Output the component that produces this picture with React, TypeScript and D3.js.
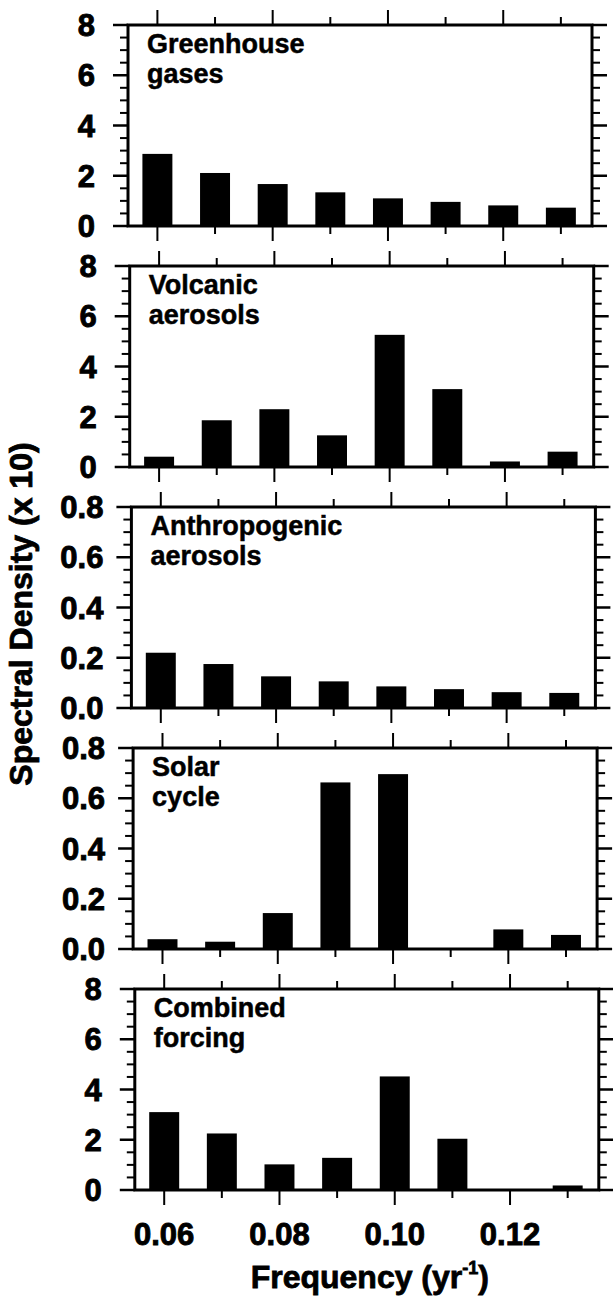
import React from "react";
import * as d3 from "d3";

// ---- Data ----
const frequencies = [0.06, 0.07, 0.08, 0.09, 0.10, 0.11, 0.12, 0.13];
const greenhouse = [2.87, 2.11, 1.67, 1.34, 1.10, 0.96, 0.82, 0.73];
const volcanic = [0.41, 1.86, 2.30, 1.26, 5.26, 3.10, 0.22, 0.61];
const anthropogenic = [0.22, 0.175, 0.126, 0.106, 0.086, 0.075, 0.063, 0.06];
const solar = [0.039, 0.029, 0.143, 0.663, 0.696, 0, 0.078, 0.056];
const combined = [3.1, 2.25, 1.02, 1.28, 4.52, 2.04, 0, 0.18];

const panelSeries = [greenhouse, volcanic, anthropogenic, solar, combined];
const panelLabels = [
  ["Greenhouse", "gases"],
  ["Volcanic", "aerosols"],
  ["Anthropogenic", "aerosols"],
  ["Solar", "cycle"],
  ["Combined", "forcing"],
];
const panelMax = [8, 8, 0.8, 0.8, 8];

const xMajorTicks = [0.06, 0.08, 0.1, 0.12];
const xMinorTicks = [0.07, 0.09, 0.11, 0.13];
const xTickLabels = ["0.06", "0.08", "0.10", "0.12"];
const xDomain = [0.0549, 0.1354];
const barWidthData = 0.0052;

const yTitle = "Spectral Density (x 10)";
const xTitle = "Frequency (yr";

// ---- Layout ----
const W = 613;
const H = 1300;
const LEFT = 128;
const PANEL_W = 464;
const TOP0 = 25;
const PANEL_H = 201;
const STEP = 241;
const SKEW = 1.7; // scan drift per panel
const FONT = "'Liberation Sans', Arial, Helvetica, sans-serif";

function Panel({ i }: { i: number }) {
  const left = LEFT + i * SKEW;
  const right = left + PANEL_W;
  const top = TOP0 + i * STEP;
  const bottom = top + PANEL_H;
  const max = panelMax[i];
  const data = panelSeries[i];

  const x = d3.scaleLinear().domain(xDomain).range([left, right]);
  const y = d3.scaleLinear().domain([0, max]).range([bottom, top]);
  const majorY = d3.range(0, max + max / 100, max / 4);
  const minorY = d3.range(0, max + max / 100, max / 16).filter((_, k) => k % 4 !== 0);
  const fmt = max >= 1 ? d3.format("d") : d3.format(".1f");
  const bw = x(xDomain[0] + barWidthData) - x(xDomain[0]);

  const MAJ = 15;
  const MIN = 8;

  return (
    <g>
      {data.map((v, k) => (
        <rect
          key={"b" + k}
          x={x(frequencies[k]) - bw / 2}
          y={y(v)}
          width={bw}
          height={Math.max(0, y(0) - y(v))}
          fill="#000"
        />
      ))}
      <rect x={left} y={top} width={PANEL_W} height={PANEL_H} fill="none" stroke="#000" strokeWidth={3} />
      {majorY.map((t, k) => (
        <g key={"my" + k}>
          <line x1={left - MAJ} x2={left} y1={y(t)} y2={y(t)} stroke="#000" strokeWidth={2.5} />
          <line x1={right} x2={right + MAJ} y1={y(t)} y2={y(t)} stroke="#000" strokeWidth={2.5} />
          <text
            x={left - (max >= 1 ? 33 : 28)}
            y={y(t)}
            dy="0.36em"
            textAnchor="end"
            fontFamily={FONT}
            fontWeight="bold"
            fontSize={31}
            stroke="#000"
            strokeWidth={0.9}
          >
            {fmt(t)}
          </text>
        </g>
      ))}
      {minorY.map((t, k) => (
        <g key={"ny" + k}>
          <line x1={left - MIN} x2={left} y1={y(t)} y2={y(t)} stroke="#000" strokeWidth={2} />
          <line x1={right} x2={right + MIN} y1={y(t)} y2={y(t)} stroke="#000" strokeWidth={2} />
        </g>
      ))}
      {xMajorTicks.map((t, k) => (
        <g key={"mx" + k}>
          <line x1={x(t)} x2={x(t)} y1={top - MAJ} y2={top} stroke="#000" strokeWidth={2} />
          <line x1={x(t)} x2={x(t)} y1={bottom} y2={bottom + MAJ} stroke="#000" strokeWidth={2} />
        </g>
      ))}
      {xMinorTicks.map((t, k) => (
        <g key={"nx" + k}>
          <line x1={x(t)} x2={x(t)} y1={top - MIN} y2={top} stroke="#000" strokeWidth={2} />
          <line x1={x(t)} x2={x(t)} y1={bottom} y2={bottom + MIN} stroke="#000" strokeWidth={2} />
        </g>
      ))}
      <text fontFamily={FONT} fontWeight="bold" fontSize={27} stroke="#000" strokeWidth={0.5}>
        <tspan x={left + 19} y={top + 28}>{panelLabels[i][0]}</tspan>
        <tspan x={left + 19} y={top + 58}>{panelLabels[i][1]}</tspan>
      </text>
      {i === panelSeries.length - 1 &&
        xMajorTicks.map((t, k) => (
          <text
            key={"xl" + k}
            x={x(t)}
            y={bottom + 55}
            textAnchor="middle"
            fontFamily={FONT}
            fontWeight="bold"
            fontSize={31}
            stroke="#000"
            strokeWidth={0.9}
          >
            {xTickLabels[k]}
          </text>
        ))}
      {i === panelSeries.length - 1 && (
        <text
          x={(left + right) / 2 + 3}
          y={bottom + 98}
          textAnchor="middle"
          fontFamily={FONT}
          fontWeight="bold"
          fontSize={32}
          stroke="#000"
          strokeWidth={0.8}
        >
          {xTitle}
          <tspan fontSize={18} dy={-14}>-1</tspan>
          <tspan dy={14}>)</tspan>
        </text>
      )}
    </g>
  );
}

export default function App() {
  return (
    <svg
      width={W}
      height={H}
      viewBox={`0 0 ${W} ${H}`}
      style={{ position: "absolute", left: 0, top: 0, background: "#fff" }}
    >
      <rect x={0} y={0} width={W} height={H} fill="#fff" />
      {panelSeries.map((_, i) => (
        <Panel key={i} i={i} />
      ))}
      <text
        transform={`translate(32, 614) rotate(-90)`}
        textAnchor="middle"
        fontFamily={FONT}
        fontWeight="bold"
        fontSize={32}
        stroke="#000"
        strokeWidth={0.8}
      >
        {yTitle}
      </text>
    </svg>
  );
}
